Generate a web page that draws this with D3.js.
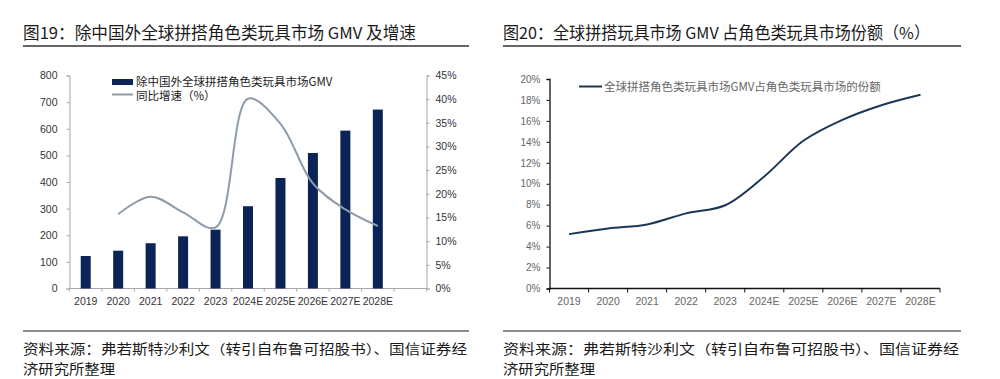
<!DOCTYPE html>
<html>
<head>
<meta charset="utf-8">
<script src="https://cdn.jsdelivr.net/npm/d3@7"></script>
<style>
  html, body { margin: 0; padding: 0; background: #fff; }
  svg { display: block; }
</style>
</head>
<body>
<div id="app"></div>
<script>
// data
const years = ["2019", "2020", "2021", "2022", "2023", "2024E", "2025E", "2026E", "2027E", "2028E"];
const gmv = [122, 142, 170, 196, 221, 309, 415, 509, 593, 672];
const growth = [null, 0.157, 0.194, 0.161, 0.129, 0.401, 0.348, 0.222, 0.167, 0.132];
const share = [0.0519, 0.0573, 0.0612, 0.0717, 0.0795, 0.107, 0.141, 0.161, 0.175, 0.185];

const leftTicks = [0, 100, 200, 300, 400, 500, 600, 700, 800];
const rightTicks = [0, 0.05, 0.1, 0.15, 0.2, 0.25, 0.3, 0.35, 0.4, 0.45];
const shareTicks = [0, 0.02, 0.04, 0.06, 0.08, 0.1, 0.12, 0.14, 0.16, 0.18, 0.2];

const title1 = "图19：除中国外全球拼搭角色类玩具市场 GMV 及增速";
const title2 = "图20：全球拼搭玩具市场 GMV 占角色类玩具市场份额（%）";
const legendBar = "除中国外全球拼搭角色类玩具市场GMV";
const legendGrowth = "同比增速（%）";
const legendShare = "全球拼搭角色类玩具市场GMV占角色类玩具市场的份额";
const source = ["资料来源：弗若斯特沙利文（转引自布鲁可招股书）、国信证券经", "济研究所整理"];

const width = 1000;
const height = 379;
const cjk = "'Noto Sans CJK SC', 'Noto Sans', sans-serif";
const latin = "'Liberation Sans', Arial, sans-serif";
const pct = d3.format(".0%");

const svg = d3.select("#app").append("svg")
  .attr("width", width)
  .attr("height", height);

svg.append("rect").attr("width", width).attr("height", height).attr("fill", "#fff");

// titles, rules and source notes for both panels
const panels = [
  { x0: 23, x1: 469, title: title1, titleW: 393 },
  { x0: 503, x1: 961, title: title2, titleW: 427 },
];
panels.forEach((p) => {
  svg.append("text")
    .attr("x", p.x0).attr("y", 39)
    .attr("font-family", cjk).attr("font-size", 16.5)
    .attr("fill", "#1a1a1a")
    .attr("textLength", p.titleW).attr("lengthAdjust", "spacingAndGlyphs")
    .text(p.title);
  svg.append("line")
    .attr("x1", p.x0).attr("x2", p.x1).attr("y1", 46).attr("y2", 46)
    .attr("stroke", "#333").attr("stroke-width", 1.3);
  svg.append("line")
    .attr("x1", p.x0).attr("x2", p.x1).attr("y1", 331).attr("y2", 331)
    .attr("stroke", "#8c8c8c").attr("stroke-width", 2);
  source.forEach((s, i) => {
    const t = svg.append("text")
      .attr("x", p.x0).attr("y", 354 + i * 19.5)
      .attr("font-family", cjk).attr("font-size", 13.4)
      .attr("fill", "#1a1a1a")
      .text(s);
    if (i === 0) t.attr("textLength", p.x1 - p.x0 - 2).attr("lengthAdjust", "spacingAndGlyphs");
    else t.attr("textLength", 92).attr("lengthAdjust", "spacingAndGlyphs");
  });
});

/*
 * left panel: bars + growth line
 */
const left = svg.append("g");
const axisGray = "#a6a6a6";

const x1 = d3.scaleBand()
  .domain([...years, ""])
  .range([69.5, 426.5]);

const yL = d3.scaleLinear().domain([0, 800]).range([288.5, 75.5]);
const yR = d3.scaleLinear().domain([0, 0.45]).range([288.5, 75.5]);

left.append("g")
  .attr("transform", "translate(69.5,0)")
  .call(d3.axisLeft(yL).tickValues(leftTicks).tickSize(3).tickPadding(9))
  .call((g) => g.select(".domain").attr("stroke", axisGray))
  .call((g) => g.selectAll(".tick line").attr("stroke", axisGray))
  .call((g) => g.selectAll("text").attr("font-family", latin).attr("font-size", 10.5).attr("fill", "#333"));

left.append("g")
  .attr("transform", "translate(426.5,0)")
  .call(d3.axisRight(yR).tickValues(rightTicks).tickFormat(pct).tickSize(3).tickPadding(6))
  .call((g) => g.select(".domain").attr("stroke", axisGray))
  .call((g) => g.selectAll(".tick line").attr("stroke", axisGray))
  .call((g) => g.selectAll("text").attr("font-family", latin).attr("font-size", 10.5).attr("fill", "#333"));

// category axis with ticks on band edges
const bottom1 = left.append("g").attr("transform", "translate(0,288.5)");
bottom1.append("line")
  .attr("x1", x1.range()[0]).attr("x2", x1.range()[1])
  .attr("stroke", axisGray);
bottom1.selectAll(".edge")
  .data([...x1.domain().map((d) => x1(d)), x1.range()[1]])
  .enter().append("line")
  .attr("x1", (d) => d).attr("x2", (d) => d)
  .attr("y1", 0).attr("y2", 3)
  .attr("stroke", axisGray);
bottom1.selectAll("text")
  .data(years)
  .enter().append("text")
  .attr("x", (d) => x1(d) + x1.bandwidth() / 2)
  .attr("y", 16)
  .attr("text-anchor", "middle")
  .attr("font-family", latin).attr("font-size", 10.5).attr("fill", "#333")
  .text((d) => d);

const barW = 10;
left.selectAll(".bar")
  .data(years)
  .enter().append("rect")
  .attr("class", "bar")
  .attr("x", (d) => x1(d) + (x1.bandwidth() - barW) / 2)
  .attr("y", (d, i) => yL(gmv[i]))
  .attr("width", barW)
  .attr("height", (d, i) => yL(0) - yL(gmv[i]))
  .attr("fill", "#0b2458");

const growthLine = d3.line()
  .defined((d) => d[1] != null)
  .x((d) => x1(d[0]) + x1.bandwidth() / 2)
  .y((d) => yR(d[1]))
  .curve(d3.curveCatmullRom.alpha(0.5));

left.append("path")
  .datum(years.map((y, i) => [y, growth[i]]))
  .attr("d", growthLine)
  .attr("fill", "none")
  .attr("stroke", "#8d9bab")
  .attr("stroke-width", 2);

// legend
left.append("rect")
  .attr("x", 112).attr("y", 79).attr("width", 21).attr("height", 6)
  .attr("fill", "#0b2458");
left.append("text")
  .attr("x", 136).attr("y", 86)
  .attr("font-family", cjk).attr("font-size", 11.5).attr("fill", "#1a1a1a")
  .text(legendBar);
left.append("line")
  .attr("x1", 112).attr("x2", 133).attr("y1", 94.5).attr("y2", 94.5)
  .attr("stroke", "#8d9bab").attr("stroke-width", 2);
left.append("text")
  .attr("x", 136).attr("y", 100)
  .attr("font-family", cjk).attr("font-size", 11.5).attr("fill", "#1a1a1a")
  .text(legendGrowth);

/*
 * right panel: share line
 */
const right = svg.append("g");

const x2 = d3.scaleBand()
  .domain(years)
  .range([549.5, 940]);

const yS = d3.scaleLinear().domain([0, 0.2]).range([288.5, 79]);

right.append("g")
  .attr("transform", "translate(549.5,0)")
  .call(d3.axisLeft(yS).tickValues(shareTicks).tickFormat(pct).tickSize(3).tickPadding(6))
  .call((g) => g.select(".domain").attr("stroke", "#111").attr("stroke-width", 1.3))
  .call((g) => g.selectAll(".tick line").attr("stroke", "#111"))
  .call((g) => g.selectAll("text").attr("font-family", latin).attr("font-size", 10).attr("fill", "#666"));

const bottom2 = right.append("g").attr("transform", "translate(0,288.5)");
bottom2.append("line")
  .attr("x1", x2.range()[0]).attr("x2", x2.range()[1])
  .attr("stroke", "#111").attr("stroke-width", 1.3);
bottom2.selectAll(".edge")
  .data([...x2.domain().map((d) => x2(d)), x2.range()[1]])
  .enter().append("line")
  .attr("x1", (d) => d).attr("x2", (d) => d)
  .attr("y1", 0).attr("y2", 4)
  .attr("stroke", "#111");
bottom2.selectAll("text")
  .data(years)
  .enter().append("text")
  .attr("x", (d) => x2(d) + x2.bandwidth() / 2)
  .attr("y", 16)
  .attr("text-anchor", "middle")
  .attr("font-family", latin).attr("font-size", 10.5).attr("fill", "#666")
  .text((d) => d);

const shareLine = d3.line()
  .x((d) => x2(d[0]) + x2.bandwidth() / 2)
  .y((d) => yS(d[1]))
  .curve(d3.curveCatmullRom.alpha(0.5));

right.append("path")
  .datum(years.map((y, i) => [y, share[i]]))
  .attr("d", shareLine)
  .attr("fill", "none")
  .attr("stroke", "#1c3756")
  .attr("stroke-width", 2);

right.append("line")
  .attr("x1", 579).attr("x2", 602).attr("y1", 86.5).attr("y2", 86.5)
  .attr("stroke", "#1c3756").attr("stroke-width", 2);
right.append("text")
  .attr("x", 604).attr("y", 91)
  .attr("font-family", cjk).attr("font-size", 11.5).attr("fill", "#666")
  .text(legendShare);
</script>
</body>
</html>
